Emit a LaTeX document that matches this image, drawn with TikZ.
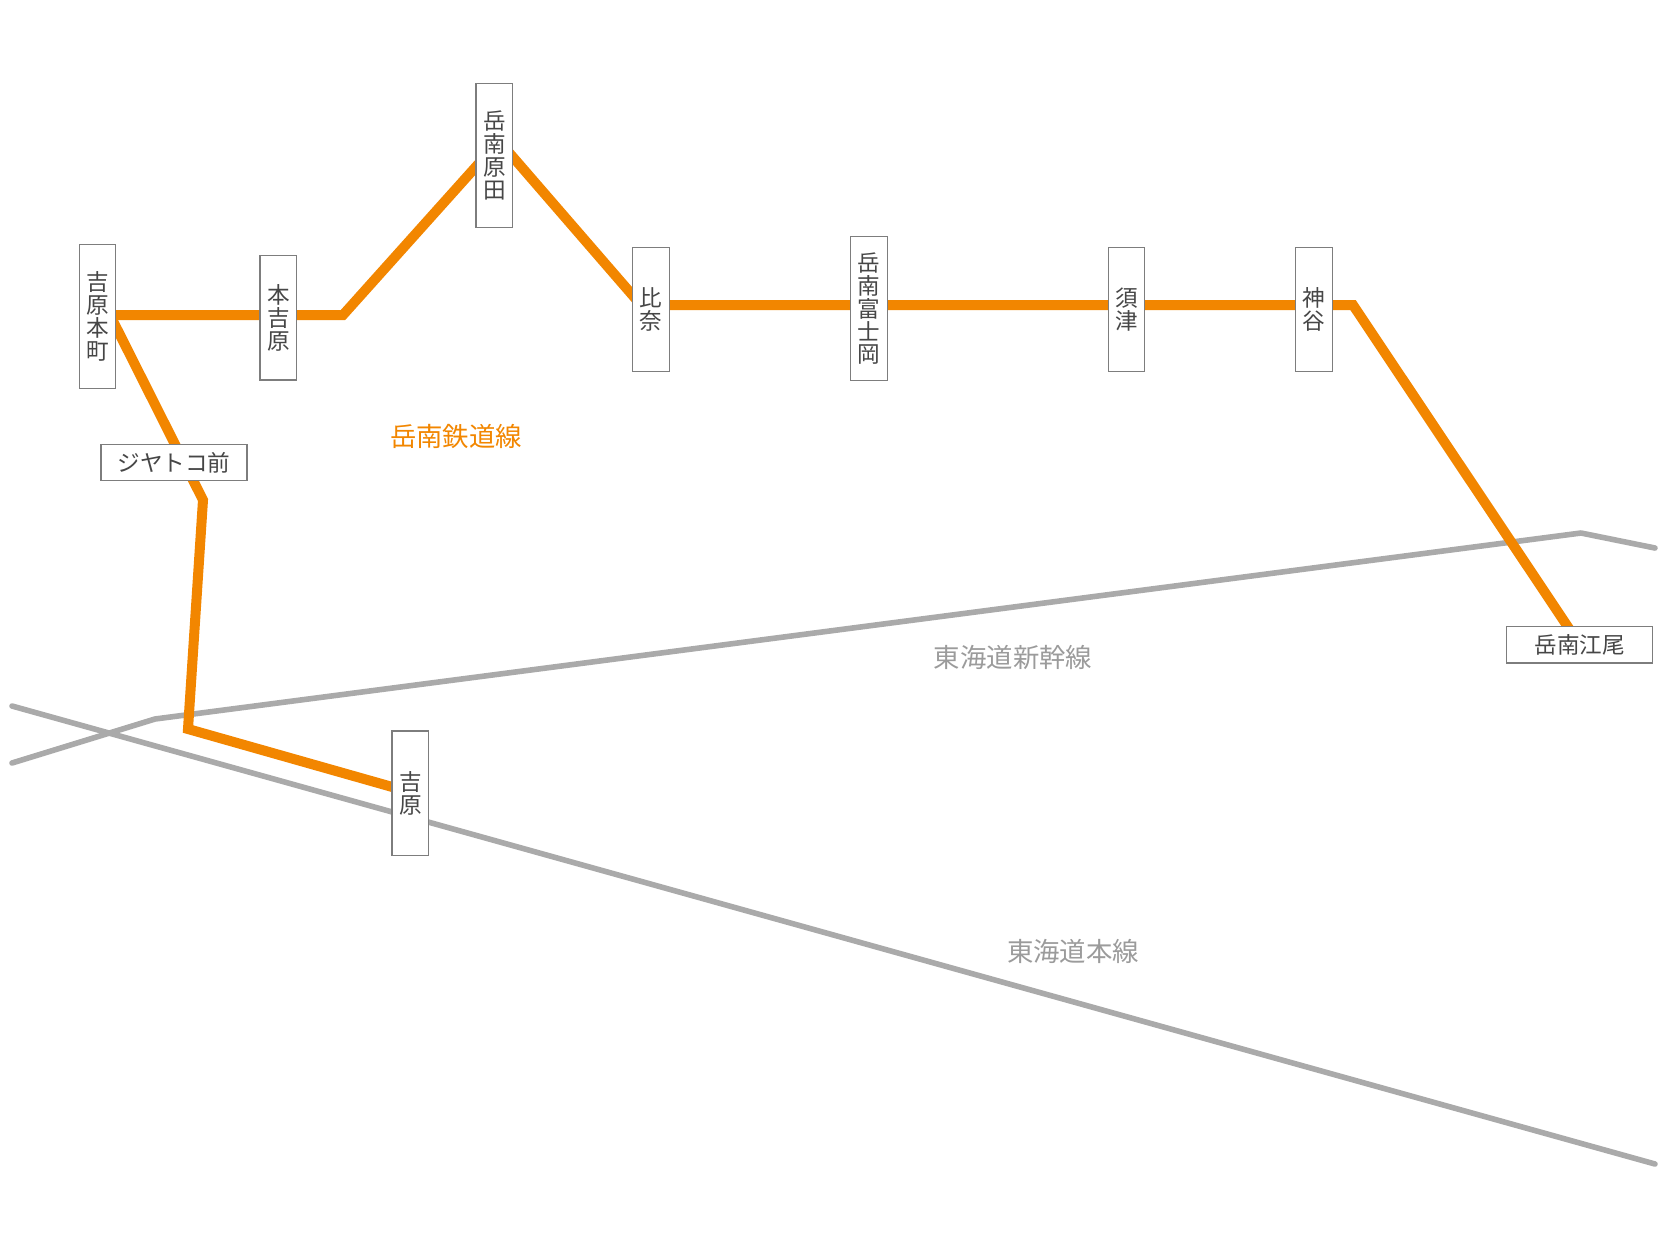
\documentclass[tikz,border=0pt]{standalone}
\usepackage{fontspec}
\setmainfont{Noto Sans CJK JP}
\definecolor{gakunan}{RGB}{242,134,0}
\definecolor{jrline}{RGB}{170,170,170}
\definecolor{jrtext}{RGB}{155,155,155}
\definecolor{boxline}{RGB}{125,125,125}
\definecolor{statext}{RGB}{70,70,70}
\tikzset{
  sta/.style={draw=boxline, line width=0.7pt, fill=white, text=statext,
    font=\fontsize{11.3}{11.45}\selectfont, align=center, inner sep=0pt,
    minimum width=18.25pt, minimum height=62.2pt},
  stalong/.style={sta, minimum height=72pt},
  stawide/.style={sta, minimum width=73pt, minimum height=18.25pt},
  rail/.style={line width=5pt, gakunan},
  jr/.style={line width=2.8pt, jrline, line cap=round, line join=round},
  linelabel/.style={font=\fontsize{13.2}{13.2}\selectfont},
}

\begin{document}
\begin{tikzpicture}[x=0.5pt,y=-0.5pt]
\useasboundingbox (0,0) rectangle (1667,1250);
% JR lines
\coordinate (hs0) at (12,706);
\coordinate (hs1) at (1655,1164);
\coordinate (sk0) at (12,763);
\coordinate (sk1) at (155,719);
\coordinate (sk2) at (1581,533);
\coordinate (sk3) at (1655,548);
\draw[jr] (hs0) -- (hs1);
\draw[jr] (sk0) -- (sk1) -- (sk2) -- (sk3);
% Gakunan line
\coordinate (g0) at (97,315);
\coordinate (g1) at (343,315);
\coordinate (g2) at (499,141);
\coordinate (g3) at (641,305);
\coordinate (g4) at (1353,305);
\coordinate (g5) at (1580,645);
\coordinate (j0) at (110,315);
\coordinate (j1) at (203,500);
\coordinate (j2) at (188,729);
\coordinate (j3) at (410,792);
\draw[rail] (g0) -- (g1) -- (g2) -- (g3) -- (g4) -- (g5);
\draw[rail] (j0) -- (j1) -- (j2) -- (j3);
% stations
\node[stalong] (yhm) at (97.5,316.3) {吉\\原\\本\\町};
\node[sta] (myh) at (278.3,317.8) {本\\吉\\原};
\node[stawide] (jtk) at (174,462.5) {ジヤトコ前};
\node[stalong] (ghd) at (494.3,155.3) {岳\\南\\原\\田};
\node[sta] (hin) at (651,309.5) {比\\奈};
\node[stalong] (gfo) at (869,308.7) {岳\\南\\富\\士\\岡};
\node[sta] (sud) at (1126.5,309.5) {須\\津};
\node[sta] (kmy) at (1314,309.5) {神\\谷};
\node[stawide] (gno) at (1579.7,644.7) {岳南江尾};
\node[sta] (ysw) at (410.3,793.3) {吉\\原};
% line names
\node[linelabel, text=gakunan] (gkl) at (456,436) {岳南鉄道線};
\node[linelabel, text=jrtext] (skl) at (1013,657) {東海道新幹線};
\node[linelabel, text=jrtext] (hsl) at (1073,951) {東海道本線};
\end{tikzpicture}
\end{document}
